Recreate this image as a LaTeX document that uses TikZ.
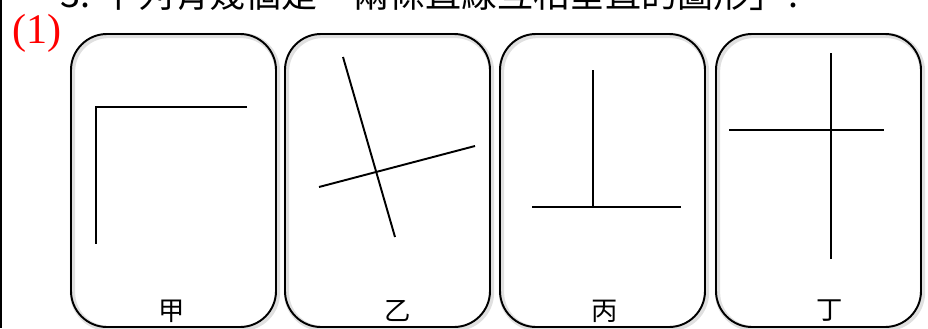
\documentclass[tikz,border=0pt]{standalone}
\usepackage{fontspec}
\setmainfont{Liberation Serif}
\newfontfamily\cjk{Noto Sans CJK TC}
\usepackage{xcolor}

\begin{document}
\begin{tikzpicture}[x=0.02cm, y=-0.02cm,
  card/.style={draw=black, line width=1.1pt, rounded corners=0.72cm},
  cardshade/.style={draw=black!12, line width=3pt, rounded corners=0.72cm},
  seg/.style={black, line width=1.1pt},
  cardlabel/.style={font=\cjk\fontsize{15}{15}\selectfont, inner sep=0pt}]

 \begin{scope}
{
\useasboundingbox (0,0) rectangle (928,328);
\clip (0,0) rectangle (928,328);

% question line, only its lower edge shows
\node[anchor=base west, inner sep=0pt, font=\cjk\fontsize{20.5}{20.5}\selectfont] (question) at (60,8) {3. 下列有幾個是「兩條直線互相垂直的圖形」?};

\node[red, font=\fontsize{24}{24}\selectfont, inner sep=0pt] (partno) at (37,33) {(1)};

\draw[black, line width=1.5pt] (0.5,0) -- (0.5,328);

\foreach \x in {71,285,500,716}{
  \draw[cardshade] (\x+1.5,35.5) rectangle ++(205,293);
  \draw[card] (\x,34) rectangle ++(205,293);
}

% jia
\draw[seg] (247,107) -- (96,107) -- (96,244);

% yi
\draw[seg] (343,57) -- (395,237);
\draw[seg] (319,187) -- (475,146);

% bing
\draw[seg] (593,70) -- (593,207);
\draw[seg] (532,207) -- (681,207);

% ding
\draw[seg] (831,53) -- (831,259);
\draw[seg] (729,130) -- (884,130);

\node[cardlabel] (jia) at (172,311) {甲};
\node[cardlabel] (yi) at (398,311) {乙};
\node[cardlabel] (bing) at (605,311) {丙};
\node[cardlabel] (ding) at (830,311) {丁};
}
\end{scope}

\end{tikzpicture}
\end{document}
